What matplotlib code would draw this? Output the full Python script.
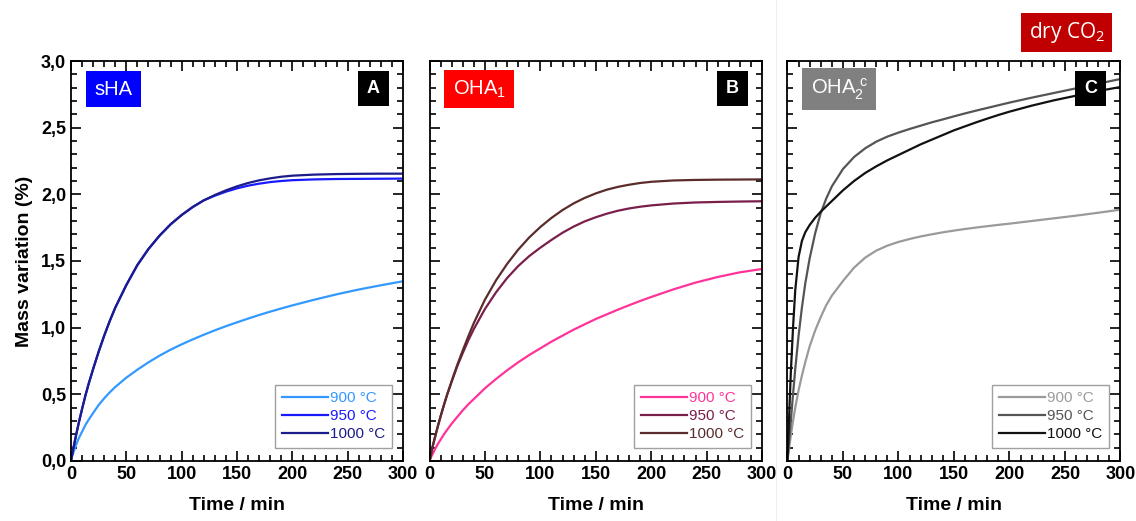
import numpy as np
import matplotlib
matplotlib.use('Agg')
from matplotlib import pyplot as plt
from matplotlib.ticker import MultipleLocator, FuncFormatter

plt.rcParams['font.family'] = ['Liberation Sans', 'DejaVu Sans']

# time axis (min)
t = [0, 1, 2, 3, 5, 7, 10, 13, 16, 20, 25, 30, 35, 40, 50, 60, 70, 80, 90, 100,
     110, 120, 130, 140, 150, 160, 170, 180, 190, 200, 220, 240, 260, 280, 300]

# panel A - sHA
a_900 = [0, 0.035, 0.06, 0.085, 0.13, 0.17, 0.22, 0.27, 0.31, 0.36, 0.42, 0.47, 0.515, 0.555,
         0.625, 0.685, 0.74, 0.79, 0.835, 0.875, 0.912, 0.947, 0.98, 1.011, 1.04, 1.068, 1.095,
         1.12, 1.144, 1.167, 1.21, 1.25, 1.286, 1.318, 1.348]
a_950 = [0, 0.045, 0.09, 0.13, 0.21, 0.285, 0.39, 0.49, 0.58, 0.69, 0.82, 0.94, 1.05, 1.15,
         1.32, 1.47, 1.59, 1.69, 1.775, 1.845, 1.905, 1.955, 1.99, 2.02, 2.045, 2.065, 2.08,
         2.092, 2.10, 2.106, 2.112, 2.115, 2.116, 2.117, 2.118]
a_1000 = [0, 0.045, 0.09, 0.13, 0.21, 0.285, 0.39, 0.49, 0.58, 0.69, 0.82, 0.94, 1.05, 1.15,
          1.32, 1.47, 1.59, 1.69, 1.775, 1.845, 1.905, 1.955, 1.995, 2.03, 2.06, 2.085, 2.105,
          2.12, 2.132, 2.14, 2.148, 2.152, 2.154, 2.155, 2.155]

# panel B - OHA1
b_900 = [0, 0.02, 0.04, 0.055, 0.09, 0.12, 0.16, 0.20, 0.235, 0.28, 0.33, 0.38, 0.425, 0.465,
         0.545, 0.615, 0.68, 0.74, 0.795, 0.845, 0.895, 0.94, 0.985, 1.025, 1.065, 1.10, 1.135,
         1.168, 1.20, 1.23, 1.287, 1.338, 1.38, 1.415, 1.44]
b_950 = [0, 0.04, 0.08, 0.115, 0.18, 0.245, 0.335, 0.42, 0.50, 0.595, 0.71, 0.81, 0.905, 0.99,
         1.14, 1.265, 1.372, 1.462, 1.537, 1.60, 1.658, 1.712, 1.758, 1.797, 1.828, 1.855, 1.877,
         1.894, 1.907, 1.917, 1.931, 1.939, 1.943, 1.946, 1.948]
b_1000 = [0, 0.04, 0.08, 0.115, 0.18, 0.245, 0.335, 0.42, 0.50, 0.60, 0.72, 0.83, 0.935, 1.035,
          1.21, 1.355, 1.478, 1.585, 1.677, 1.755, 1.823, 1.882, 1.932, 1.973, 2.007, 2.035, 2.056,
          2.072, 2.085, 2.094, 2.104, 2.108, 2.11, 2.111, 2.112]

# panel C - OHA2c
c_900 = [0, 0.07, 0.13, 0.19, 0.30, 0.40, 0.53, 0.64, 0.74, 0.86, 0.98, 1.08, 1.17, 1.24,
         1.35, 1.45, 1.525, 1.578, 1.615, 1.643, 1.665, 1.684, 1.70, 1.715, 1.728, 1.74, 1.751,
         1.761, 1.771, 1.78, 1.80, 1.82, 1.84, 1.862, 1.885]
c_950 = [0, 0.10, 0.20, 0.30, 0.50, 0.69, 0.94, 1.15, 1.33, 1.52, 1.71, 1.86, 1.97, 2.06,
         2.19, 2.28, 2.345, 2.395, 2.433, 2.463, 2.49, 2.515, 2.54, 2.562, 2.585, 2.607, 2.628,
         2.648, 2.668, 2.688, 2.725, 2.76, 2.795, 2.83, 2.865]
c_1000 = [0, 0.22, 0.45, 0.66, 1.00, 1.28, 1.53, 1.65, 1.715, 1.77, 1.825, 1.87, 1.91, 1.95,
          2.03, 2.10, 2.16, 2.21, 2.255, 2.295, 2.335, 2.375, 2.41, 2.445, 2.48, 2.51, 2.54,
          2.568, 2.595, 2.62, 2.665, 2.705, 2.74, 2.775, 2.805]

temps = ['900 °C', '950 °C', '1000 °C']

panels = [
    dict(rect=[0.0625, 0.1152, 0.2923, 0.7677], series=[a_900, a_950, a_1000],
         colors=['#3399ff', '#1a1aff', '#1c1c8a'], name='sHA', name_bg='#0000ff', letter='A'),
    dict(rect=[0.3781, 0.1152, 0.2927, 0.7677], series=[b_900, b_950, b_1000],
         colors=['#ff3399', '#7a1f4a', '#5a2c2c'], name='OHA$_{\\mathregular{1}}$',
         name_bg='#ff0000', letter='B'),
    dict(rect=[0.6932, 0.1152, 0.2931, 0.7677], series=[c_900, c_950, c_1000],
         colors=['#9a9a9a', '#555555', '#111111'],
         name='OHA$_{\\mathregular{2}}^{\\mathregular{\\ c}}$', name_bg='#808080', letter='C'),
]

fig = plt.figure(figsize=(11.36, 5.21), dpi=100)

for i, p in enumerate(panels):
    ax = fig.add_axes(p['rect'])
    for ys, col, lab in zip(p['series'], p['colors'], temps):
        ax.plot(t, ys, color=col, lw=1.6, label=lab)
    ax.set_xlim(0, 300)
    ax.set_ylim(0, 3.0)
    ax.xaxis.set_major_locator(MultipleLocator(50))
    ax.xaxis.set_minor_locator(MultipleLocator(10))
    ax.yaxis.set_major_locator(MultipleLocator(0.5))
    ax.yaxis.set_minor_locator(MultipleLocator(0.1))
    ax.tick_params(which='both', direction='in', top=True, right=True, width=1.2)
    ax.tick_params(which='major', length=7, labelsize=13)
    ax.tick_params(which='minor', length=4)
    for sp in ax.spines.values():
        sp.set_linewidth(1.3)
    for lbl in ax.get_xticklabels():
        lbl.set_fontweight('bold')
    ax.set_xlabel('Time / min', fontsize=14, fontweight='bold', labelpad=10)
    if i == 0:
        ax.yaxis.set_major_formatter(FuncFormatter(lambda v, pos: f'{v:.1f}'.replace('.', ',')))
        for lbl in ax.get_yticklabels():
            lbl.set_fontweight('bold')
        ax.set_ylabel('Mass variation (%)', fontsize=14, fontweight='bold', labelpad=6)
    else:
        ax.set_yticklabels([])

    leg = ax.legend(loc='lower right', fontsize=11, frameon=True, fancybox=False,
                    handlelength=3.0, handletextpad=0.15, borderpad=0.45, labelspacing=0.25,
                    borderaxespad=0, bbox_to_anchor=(0.967, 0.0325))
    leg.get_frame().set_edgecolor('#888888')
    leg.get_frame().set_linewidth(1.0)
    for txt, col in zip(leg.get_texts(), p['colors']):
        txt.set_color(col)

    ax.text(0.07, 0.93, p['name'], transform=ax.transAxes, ha='left', va='center',
            fontsize=14.5, color='white',
            bbox=dict(boxstyle='square,pad=0.42', fc=p['name_bg'], ec='none'))
    ax.text(0.91, 0.932, p['letter'], transform=ax.transAxes, ha='center', va='center',
            fontsize=13, fontweight='bold', color='white',
            bbox=dict(boxstyle='square,pad=0.5', fc='black', ec='none'))

fig.text(0.939, 0.938, 'dry CO$_{\\mathregular{2}}$', ha='center', va='center',
         fontsize=15, color='white', family=['Open Sans', 'DejaVu Sans'],
         bbox=dict(boxstyle='square,pad=0.35', fc='#c00000', ec='none'))

fig.add_artist(plt.Line2D([0.683, 0.683], [0.0, 1.0], color='#eeeeee', lw=0.8))

fig.savefig('out.png', dpi=100)
